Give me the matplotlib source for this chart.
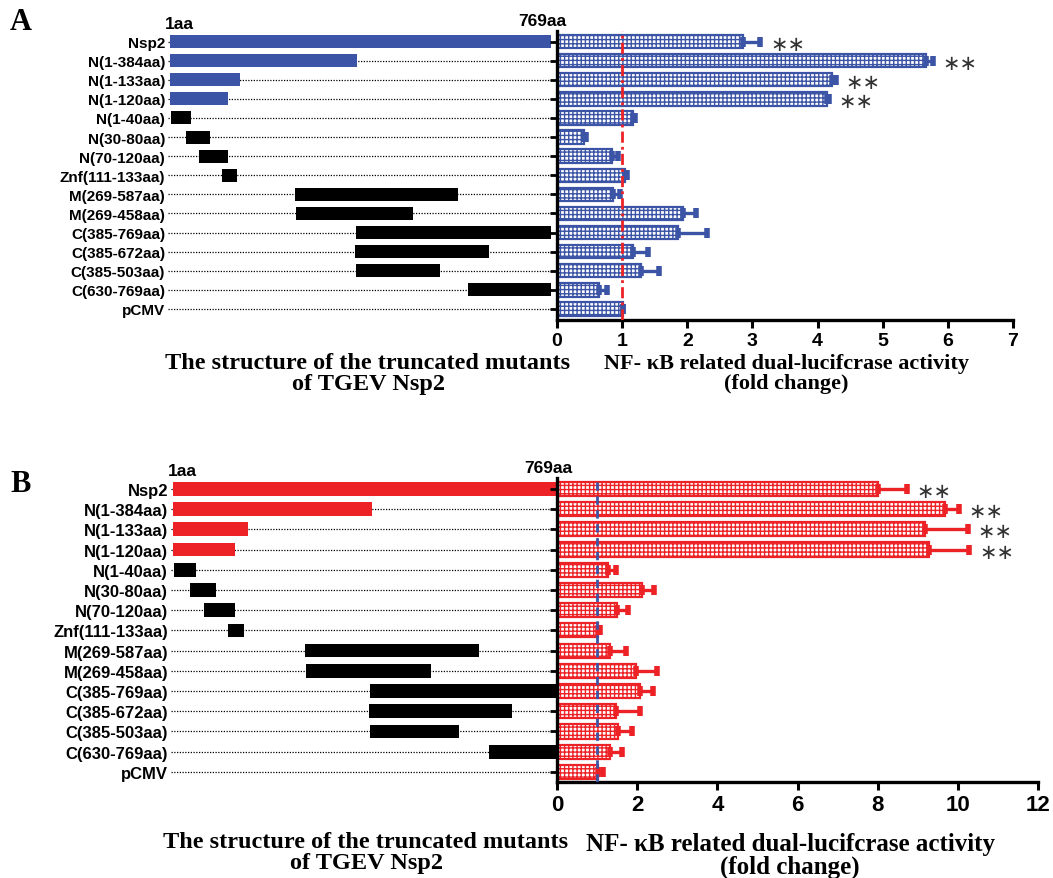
import numpy as np
import matplotlib
matplotlib.use("Agg")
import matplotlib.pyplot as plt

# === Daten ===
names = ["Nsp2", "N(1-384aa)", "N(1-133aa)", "N(1-120aa)", "N(1-40aa)", "N(30-80aa)",
         "N(70-120aa)", "Znf(111-133aa)", "M(269-587aa)", "M(269-458aa)", "C(385-769aa)",
         "C(385-672aa)", "C(385-503aa)", "C(630-769aa)", "pCMV"]

# drawn segments (aa), pCMV has none
starts_a = [1, 1, 1, 1, 3, 33, 60, 105, 252, 254, 375, 374, 375, 602]
ends_a = [769, 378, 143, 118, 44, 81, 118, 136, 581, 490, 769, 643, 545, 769]
starts_b = [1, 1, 1, 1, 2, 34, 62, 110, 265, 267, 394, 392, 394, 633]
ends_b = [769, 399, 151, 125, 47, 86, 125, 143, 612, 516, 769, 678, 573, 769]

# fold change + error (upper)
vals_a = [2.86, 5.66, 4.22, 4.14, 1.16, 0.42, 0.84, 1.04, 0.86, 1.93, 1.86, 1.16, 1.29, 0.64, 1.01]
err_a = [0.26, 0.11, 0.06, 0.03, 0.03, 0.03, 0.09, 0.04, 0.10, 0.21, 0.45, 0.24, 0.27, 0.13, 0.0]
vals_b = [8.02, 9.67, 9.19, 9.27, 1.27, 2.11, 1.50, 1.03, 1.33, 1.98, 2.08, 1.48, 1.52, 1.32, 1.02]
err_b = [0.71, 0.36, 1.06, 1.02, 0.20, 0.30, 0.28, 0.05, 0.38, 0.52, 0.32, 0.59, 0.35, 0.30, 0.13]
stars_rows = [0, 1, 2, 3]

left_title = "The structure of the truncated mutants\nof TGEV Nsp2"
right_title = "NF- \u03baB related dual-lucifcrase activity\n(fold change)"

blue = "#3B54A5"
red = "#EC2227"
sans = "Liberation Sans"
serif = "Liberation Serif"

W, H = 1053, 879
fig = plt.figure(figsize=(W / 100, H / 100), dpi=100)
plt.rcParams["hatch.linewidth"] = 1.0


def px_rect(x0, y0, x1, y1):
    return [x0 / W, 1 - y1 / H, (x1 - x0) / W, (y1 - y0) / H]


def draw_panel(rect_s, rect_b, starts, ends, vals, errs, color, ylim, s_xlim,
               xmax, xstep, vline_color, vline_style, row_fs, tick_fs, aa_fs):
    ax_s = fig.add_axes(rect_s)
    ax_b = fig.add_axes(rect_b)
    n = len(names)
    rows = np.arange(n)

    # --- Struktur ---
    ax_s.set_xlim(*s_xlim)
    ax_s.set_ylim(*ylim)
    for i in rows:
        ax_s.plot([s_xlim[0], s_xlim[1]], [i, i], ls=(0, (1, 1.2)), color="black", lw=0.9, zorder=1)
    for i in range(len(starts)):
        c = color if i < 4 else "black"
        ax_s.barh(i, ends[i] - starts[i], left=starts[i], height=0.68, color=c, zorder=2)
    ax_s.set_yticks(rows)
    ax_s.set_yticklabels(names, fontsize=row_fs, fontweight="bold", family=sans)
    ax_s.tick_params(axis="y", length=0, pad=2)
    ax_s.set_xticks([])
    for sp in ax_s.spines.values():
        sp.set_visible(False)
    ax_s.text(-9, 1.0, "1aa", fontsize=aa_fs, fontweight="bold", family=sans,
              ha="left", va="bottom", transform=ax_s.get_xaxis_transform())
    ax_s.text(751, 1.01, "769aa", fontsize=aa_fs, fontweight="bold", family=sans,
              ha="center", va="bottom", transform=ax_s.get_xaxis_transform())

    # --- Balken ---
    ax_b.barh(rows, vals, height=0.7, color="white", edgecolor=color, hatch="++++",
              lw=1.6, zorder=2)
    ax_b.errorbar(vals, rows, xerr=[np.zeros(n), errs], fmt="none", ecolor=color,
                  elinewidth=2.4, capsize=3.5, capthick=4, zorder=3)
    ax_b.axvline(1, color=vline_color, ls=vline_style, lw=2, zorder=4)
    for i in stars_rows:
        ax_b.annotate("\u2217\u2217", xy=(vals[i] + errs[i], i), xytext=(7, -1.5),
                      textcoords="offset points", ha="left", va="center",
                      fontsize=15, color="#333333", family="DejaVu Sans")
    ax_b.set_xlim(0, xmax)
    ax_b.set_ylim(*ylim)
    ax_b.set_xticks(np.arange(0, xmax + 1, xstep))
    ax_b.set_xticklabels([str(v) for v in np.arange(0, xmax + 1, xstep)],
                         fontsize=tick_fs, fontweight="bold", family=sans)
    ax_b.set_yticks(rows)
    ax_b.set_yticklabels([])
    ax_b.tick_params(axis="y", length=5, width=2, direction="out")
    ax_b.tick_params(axis="x", length=6, width=2.2, direction="out", pad=3)
    ax_b.spines["top"].set_visible(False)
    ax_b.spines["right"].set_visible(False)
    ax_b.spines["left"].set_linewidth(2.4)
    ax_b.spines["bottom"].set_linewidth(2.4)
    return ax_s, ax_b


# Panel A
draw_panel(px_rect(168, 31.7, 556, 321), px_rect(557, 31.7, 1013, 321),
           starts_a, ends_a, vals_a, err_a, blue, (14.58, -0.57), (-3, 779),
           7, 1, red, (0, (4, 1.5, 1, 1.5)), 11, 14, 12.5)

# Panel B
draw_panel(px_rect(171, 479, 557, 783), px_rect(557, 479, 1038, 783),
           starts_b, ends_b, vals_b, err_b, red, (14.5, -0.54), (-3, 769),
           12, 2, blue, (0, (3, 2)), 12, 16, 12.5)

# Achsentitel
fig.text(368 / W, 1 - 374 / H, left_title, ha="center", va="center", fontsize=17.5,
         fontweight="bold", family=serif, linespacing=1.0)
fig.text(786 / W, 1 - 374 / H, right_title, ha="center", va="center", fontsize=16,
         fontweight="bold", family=serif, linespacing=1.0)
fig.text(366 / W, 1 - 853 / H, left_title, ha="center", va="center", fontsize=17.5,
         fontweight="bold", family=serif, linespacing=1.0)
fig.text(790 / W, 1 - 856 / H, right_title, ha="center", va="center", fontsize=18,
         fontweight="bold", family=serif, linespacing=1.0)

fig.text(10 / W, 1 - 22 / H, "A", fontsize=22, fontweight="bold", family=serif, va="center")
fig.text(10 / W, 1 - 485 / H, "B", fontsize=22, fontweight="bold", family=serif, va="center")

fig.savefig("out.png", dpi=100)
